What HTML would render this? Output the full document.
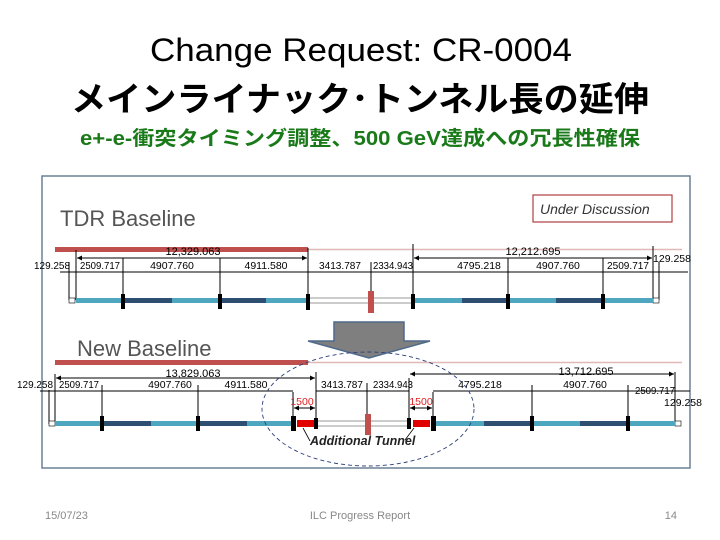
<!DOCTYPE html>
<html><head><meta charset="utf-8"><style>
html,body{margin:0;padding:0;background:#fff;}
body{width:720px;height:540px;overflow:hidden;position:relative;}
</style></head><body>
<svg width="720" height="540" viewBox="0 0 720 540" xmlns="http://www.w3.org/2000/svg" style="position:absolute;left:0;top:0">
<defs>
<marker id="a" viewBox="0 0 6 6" refX="6" refY="3" markerWidth="5" markerHeight="5" orient="auto-start-reverse"><path d="M0,0 L6,3 L0,6 z" fill="#000"/></marker>
</defs>
<text x="361" y="61" text-anchor="middle" font-family="Liberation Sans, sans-serif" font-size="32" fill="#000" textLength="422" lengthAdjust="spacingAndGlyphs">Change Request: CR-0004</text>
<text x="360" y="111" text-anchor="middle" font-family="Liberation Sans, 'Noto Sans CJK JP', sans-serif" font-size="34" font-weight="bold" fill="#000" textLength="578" lengthAdjust="spacingAndGlyphs">メインライナック･トンネル長の延伸</text>
<text x="360" y="145" text-anchor="middle" font-family="Liberation Sans, 'Noto Sans CJK JP', sans-serif" font-size="20" font-weight="bold" fill="#1a7a1a" textLength="560" lengthAdjust="spacingAndGlyphs">e+-e-衝突タイミング調整、500 GeV達成への冗長性確保</text>

<rect x="42" y="176" width="648" height="292" fill="#fff" stroke="#6a8096" stroke-width="1.5"/>
<g font-family="Liberation Sans, sans-serif" fill="#000">
<text x="60" y="226" font-size="22" fill="#555">TDR Baseline</text>
<rect x="533" y="195" width="139" height="27" fill="#fff" stroke="#b04040" stroke-width="1.2"/>
<text x="540" y="214" font-size="14" font-style="italic" fill="#333">Under Discussion</text>
<rect x="55" y="247" width="253" height="5" fill="#c0504d"/>
<line x1="308" y1="249.5" x2="682" y2="249.5" stroke="#e0b8b8" stroke-width="1.5"/>

<g stroke="#000" stroke-width="1">
<line x1="76" y1="250" x2="76" y2="300"/><line x1="69" y1="262" x2="69" y2="300"/>
<line x1="123" y1="258" x2="123" y2="300"/><line x1="220" y1="258" x2="220" y2="300"/>
<line x1="308" y1="248" x2="308" y2="300"/><line x1="371" y1="262" x2="371" y2="292"/>
<line x1="413" y1="244" x2="413" y2="300"/><line x1="508" y1="258" x2="508" y2="300"/>
<line x1="603" y1="258" x2="603" y2="300"/><line x1="653" y1="246" x2="653" y2="300"/>
<line x1="659" y1="262" x2="659" y2="300"/>
<line x1="77" y1="258" x2="307" y2="258" marker-start="url(#a)" marker-end="url(#a)"/><line x1="414" y1="258" x2="652" y2="258" marker-start="url(#a)" marker-end="url(#a)"/>
<line x1="60" y1="272" x2="688" y2="272"/>
</g>
<g font-size="10.5" text-anchor="middle" style="font-stretch:condensed">
<text x="193" y="255" font-size="11">12,329.063</text><text x="533" y="255" font-size="11">12,212.695</text>
<text x="52" y="269" textLength="36" lengthAdjust="spacingAndGlyphs">129.258</text><text x="100" y="269" textLength="40" lengthAdjust="spacingAndGlyphs">2509.717</text><text x="172" y="269">4907.760</text>
<text x="266" y="269">4911.580</text><text x="340" y="269" textLength="42" lengthAdjust="spacingAndGlyphs">3413.787</text><text x="393" y="269" textLength="40" lengthAdjust="spacingAndGlyphs">2334.943</text>
<text x="479" y="269">4795.218</text><text x="558" y="269">4907.760</text><text x="628" y="269" textLength="42" lengthAdjust="spacingAndGlyphs">2509.717</text>
<text x="672" y="262">129.258</text>
</g>
<rect x="69" y="298" width="6" height="5" fill="#fff" stroke="#000" stroke-width="0.6"/>
<rect x="653" y="298" width="6" height="5" fill="#fff" stroke="#000" stroke-width="0.6"/>
<rect x="76" y="298" width="232" height="5" fill="#4ea6bf"/>
<rect x="124" y="298" width="48" height="5" fill="#2e4e72"/><rect x="221" y="298" width="45" height="5" fill="#2e4e72"/>
<rect x="413" y="298" width="240" height="5" fill="#4ea6bf"/>
<rect x="462" y="298" width="46" height="5" fill="#2e4e72"/><rect x="556" y="298" width="47" height="5" fill="#2e4e72"/>
<rect x="308" y="298" width="105" height="5" fill="#fff" stroke="#555" stroke-width="0.6"/>
<g fill="#000"><rect x="121" y="294" width="4" height="15"/><rect x="218" y="294" width="4" height="15"/><rect x="306" y="294" width="4" height="16"/><rect x="411" y="294" width="4" height="15"/><rect x="506" y="294" width="4" height="15"/><rect x="601" y="294" width="4" height="15"/></g>
<rect x="368" y="291" width="6" height="22" fill="#c0504d"/>

<polygon points="334,322 404,322 404,341 430,341 369,358 308,341 334,341" fill="#7f7f7f" stroke="#4f6a8a" stroke-width="1.5"/>
<text x="77" y="356" font-size="22" fill="#555">New Baseline</text>
<rect x="55" y="360" width="253" height="5" fill="#c0504d"/>
<line x1="308" y1="362.5" x2="682" y2="362.5" stroke="#e0b8b8" stroke-width="1.5"/>

<g stroke="#000" stroke-width="1">
<line x1="55" y1="374" x2="55" y2="424"/><line x1="49" y1="390" x2="49" y2="424"/>
<line x1="102" y1="385" x2="102" y2="424"/><line x1="198" y1="385" x2="198" y2="424"/>
<line x1="293" y1="392" x2="293" y2="424"/><line x1="316" y1="372" x2="316" y2="424"/>
<line x1="367" y1="383" x2="367" y2="415"/><line x1="409" y1="378" x2="409" y2="424"/>
<line x1="433" y1="392" x2="433" y2="424"/><line x1="532" y1="385" x2="532" y2="424"/>
<line x1="628" y1="385" x2="628" y2="424"/><line x1="675" y1="372" x2="675" y2="424"/>
<line x1="56" y1="378" x2="315" y2="378" marker-start="url(#a)" marker-end="url(#a)"/><line x1="410" y1="374" x2="674" y2="374" marker-start="url(#a)" marker-end="url(#a)"/>
<line x1="40" y1="391" x2="293" y2="391"/><line x1="316" y1="391" x2="409" y2="391"/><line x1="433" y1="391" x2="690" y2="391"/>
<line x1="294" y1="408" x2="315" y2="408" marker-start="url(#a)" marker-end="url(#a)"/><line x1="410" y1="408" x2="432" y2="408" marker-start="url(#a)" marker-end="url(#a)"/>
</g>
<g font-size="10.5" text-anchor="middle">
<text x="193" y="377" font-size="11">13,829.063</text><text x="586" y="375" font-size="11">13,712.695</text>
<text x="35" y="388" textLength="36" lengthAdjust="spacingAndGlyphs">129.258</text><text x="79" y="388" textLength="40" lengthAdjust="spacingAndGlyphs">2509.717</text><text x="170" y="388">4907.760</text>
<text x="246" y="388">4911.580</text><text x="342" y="388" textLength="42" lengthAdjust="spacingAndGlyphs">3413.787</text><text x="393" y="388" textLength="40" lengthAdjust="spacingAndGlyphs">2334.943</text>
<text x="480" y="388">4795.218</text><text x="585" y="388">4907.760</text><text x="655" y="394" textLength="40" lengthAdjust="spacingAndGlyphs">2509.717</text>
<text x="683" y="406">129.258</text>
<text x="302" y="405" fill="#e02020">1500</text><text x="421" y="405" fill="#e02020">1500</text>
</g>
<rect x="49" y="421" width="6" height="5" fill="#fff" stroke="#000" stroke-width="0.6"/>
<rect x="675" y="421" width="6" height="5" fill="#fff" stroke="#000" stroke-width="0.6"/>
<rect x="55" y="421" width="238" height="5" fill="#4ea6bf"/>
<rect x="104" y="421" width="47" height="5" fill="#2e4e72"/><rect x="200" y="421" width="47" height="5" fill="#2e4e72"/>
<rect x="433" y="421" width="242" height="5" fill="#4ea6bf"/>
<rect x="484" y="421" width="48" height="5" fill="#2e4e72"/><rect x="580" y="421" width="48" height="5" fill="#2e4e72"/>
<rect x="316" y="421" width="93" height="5" fill="#fff" stroke="#555" stroke-width="0.6"/>
<rect x="297" y="420" width="17" height="7" fill="#e00000"/><rect x="413" y="420" width="17" height="7" fill="#e00000"/>
<g fill="#000"><rect x="291" y="416" width="5" height="15"/><rect x="314" y="418" width="4" height="11"/><rect x="407" y="418" width="4" height="11"/><rect x="431" y="416" width="5" height="15"/><rect x="100" y="416" width="4" height="15"/><rect x="196" y="416" width="4" height="15"/><rect x="530" y="416" width="4" height="15"/><rect x="626" y="416" width="4" height="15"/></g>
<rect x="365" y="414" width="6" height="21" fill="#c0504d"/>
<line x1="310" y1="441" x2="303" y2="428" stroke="#000" stroke-width="0.8"/>
<line x1="405" y1="440" x2="414" y2="428" stroke="#000" stroke-width="0.8"/>
<text x="310" y="445" font-size="12.5" font-weight="bold" font-style="italic" fill="#222">Additional Tunnel</text>
<ellipse cx="368" cy="409" rx="106" ry="57" fill="none" stroke="#2a3f7a" stroke-width="0.9" stroke-dasharray="4,3"/>
</g>

<g font-family="Liberation Sans, sans-serif" font-size="11" fill="#888">
<text x="45" y="519">15/07/23</text>
<text x="360" y="519" text-anchor="middle">ILC Progress Report</text>
<text x="677" y="519" text-anchor="end">14</text>
</g>
</svg>
</body></html>
